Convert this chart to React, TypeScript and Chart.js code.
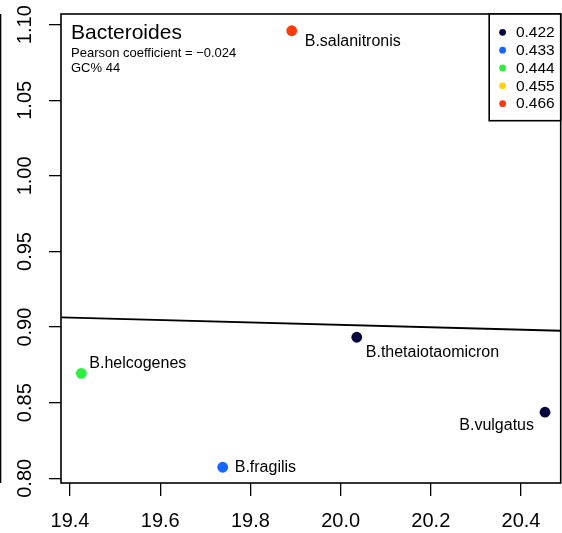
import React, { useEffect, useRef } from "react";
import { Chart, registerables } from "chart.js";

Chart.register(...registerables);

const species = ["B.salanitronis", "B.thetaiotaomicron", "B.vulgatus", "B.fragilis", "B.helcogenes"];
const xValues = [19.8916, 20.0358, 20.4532, 19.7386, 19.4251];
const yValues = [1.096, 0.8933, 0.8437, 0.8073, 0.8694];
const groupIndex = [4, 0, 0, 1, 2];
const legendLabels = ["0.422", "0.433", "0.444", "0.455", "0.466"];
const legendColors = ["#05053F", "#1466FF", "#2FEE3F", "#FFD500", "#FF3A08"];
const xTicks = [19.4, 19.6, 19.8, 20.0, 20.2, 20.4];
const yTicks = [0.8, 0.85, 0.9, 0.95, 1.0, 1.05, 1.1];
const regX = [19.38, 20.488];
const regY = [0.9064, 0.8976];
const titleText = "Bacteroides";
const subLines = ["Pearson coefficient = \u22120.024", "GC% 44"];

// label offsets (dx, dy, align)
const labelOffsets: [number, number, CanvasTextAlign][] = [
  [13, 11, "left"],
  [9, 15, "left"],
  [-11, 13, "right"],
  [12, 0, "left"],
  [8, -10, "left"],
];

const FONT = "'Liberation Sans', Arial, Helvetica, sans-serif";

export default function App() {
  const ref = useRef<HTMLCanvasElement>(null);
  useEffect(() => {
    const canvas = ref.current!;
    const overlay = {
      id: "overlay",
      afterDraw(chart: any) {
        const ctx = chart.ctx as CanvasRenderingContext2D;
        const { left, right, top, bottom } = chart.chartArea;
        const xs = chart.scales.x;
        const ys = chart.scales.y;
        ctx.save();
        // box
        ctx.strokeStyle = "#000";
        ctx.lineWidth = 1.6;
        ctx.strokeRect(left, top, right - left, bottom - top);
        // far-left stray line
        ctx.fillStyle = "#000";
        ctx.fillRect(0, top, 1.3, bottom - top);
        // point labels
        ctx.font = `16px ${FONT}`;
        ctx.textBaseline = "middle";
        ctx.fillStyle = "#000";
        species.forEach((s, i) => {
          const px = xs.getPixelForValue(xValues[i]);
          const py = ys.getPixelForValue(yValues[i]);
          const [dx, dy, al] = labelOffsets[i];
          ctx.textAlign = al;
          ctx.fillText(s, px + dx, py + dy);
        });
        // title
        ctx.textAlign = "left";
        ctx.textBaseline = "alphabetic";
        ctx.font = `21px ${FONT}`;
        ctx.fillText(titleText, left + 10, top + 25);
        ctx.font = `13px ${FONT}`;
        ctx.fillText(subLines[0], left + 10, top + 43);
        ctx.fillText(subLines[1], left + 10, top + 58);
        // legend
        const lx0 = right - 71.5;
        const ly0 = top;
        ctx.fillStyle = "#fff";
        ctx.fillRect(lx0, ly0, right - lx0, 106.7);
        ctx.strokeStyle = "#000";
        ctx.lineWidth = 1.6;
        ctx.strokeRect(lx0, ly0, right - lx0, 106.7);
        ctx.font = `15.5px ${FONT}`;
        ctx.textBaseline = "middle";
        legendLabels.forEach((lab, i) => {
          const cy = ly0 + 18.3 + i * 17.85;
          ctx.fillStyle = legendColors[i];
          ctx.beginPath();
          ctx.arc(lx0 + 13.4, cy, 3.4, 0, Math.PI * 2);
          ctx.fill();
          ctx.fillStyle = "#000";
          ctx.fillText(lab, lx0 + 26.7, cy + 0.5);
        });
        ctx.restore();
      },
    };

    const chart = new Chart(canvas, {
      type: "scatter",
      data: {
        datasets: [
          {
            type: "line",
            data: regX.map((x, i) => ({ x, y: regY[i] })),
            borderColor: "#000",
            borderWidth: 1.8,
            pointRadius: 0,
            fill: false,
          } as any,
          {
            data: xValues.map((x, i) => ({ x, y: yValues[i] })),
            backgroundColor: groupIndex.map((g) => legendColors[g]),
            borderWidth: 0,
            pointRadius: 5.4,
          },
        ],
      },
      options: {
        animation: false,
        responsive: false,
        devicePixelRatio: 1,
        layout: { autoPadding: false, padding: { top: 14, right: 1.3, left: 0, bottom: 0 } },
        plugins: { legend: { display: false }, tooltip: { enabled: false } },
        scales: {
          x: {
            type: "linear",
            min: 19.38,
            max: 20.488,
            afterFit: (s: any) => {
              s.height = 50;
              s.paddingLeft = 0;
              s.paddingRight = 0;
            },
            afterBuildTicks: (s: any) => {
              s.ticks = xTicks.map((v) => ({ value: v }));
            },
            border: { display: false },
            grid: { drawOnChartArea: false, drawTicks: true, tickLength: 13, color: "#000", lineWidth: 1.3 },
            ticks: {
              padding: 13,
              color: "#000",
              font: { family: FONT, size: 20 },
              maxRotation: 0,
              callback: (v: any) => Number(v).toFixed(1),
            },
          },
          y: {
            type: "linear",
            min: 0.79689,
            max: 1.10708,
            afterFit: (s: any) => {
              s.width = 61;
              s.paddingTop = 0;
              s.paddingBottom = 0;
            },
            afterBuildTicks: (s: any) => {
              s.ticks = yTicks.map((v) => ({ value: v }));
            },
            border: { display: false },
            grid: { drawOnChartArea: false, drawTicks: true, tickLength: 12, color: "#000", lineWidth: 1.3 },
            ticks: {
              padding: 4,
              color: "#000",
              crossAlign: "center",
              minRotation: 90,
              maxRotation: 90,
              font: { family: FONT, size: 20 },
              callback: (v: any) => Number(v).toFixed(2),
            },
          },
        },
      },
      plugins: [overlay],
    });
    return () => chart.destroy();
  }, []);
  return (
    <div style={{ position: "absolute", left: 0, top: 0, width: 562, height: 533, background: "#fff" }}>
      <canvas ref={ref} width={562} height={533} style={{ display: "block" }} />
    </div>
  );
}
